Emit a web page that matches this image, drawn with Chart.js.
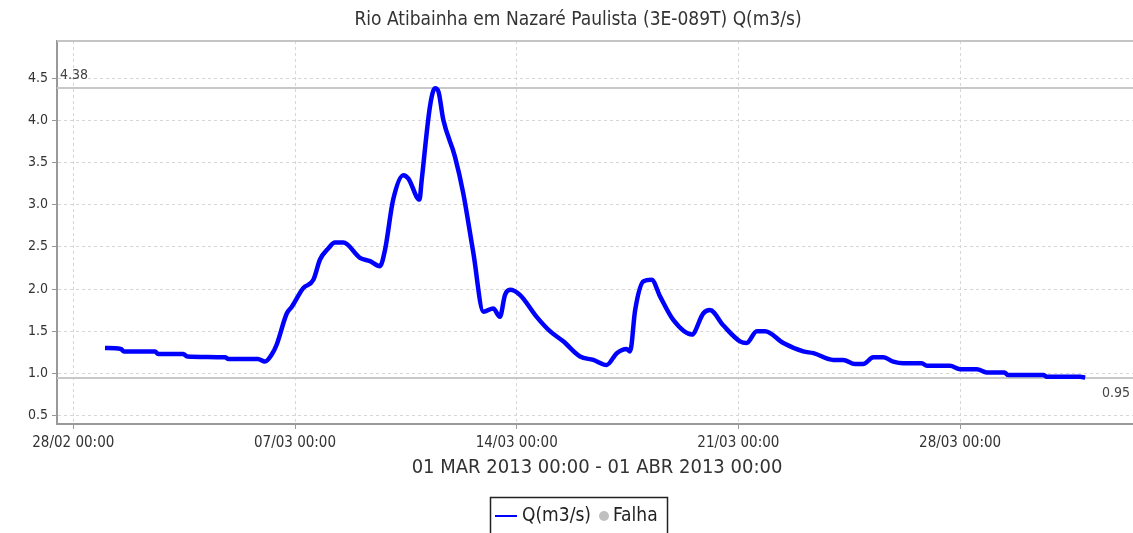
<!DOCTYPE html>
<html lang="pt">
<head>
    <meta charset="UTF-8">
    <title>Rio Atibainha em Nazaré Paulista</title>
    <style>
        body {
            margin: 0;
            background: #fff;
        }
        #wrap {
            width: 1133px;
            height: 533px;
        }
    </style>
</head>
<body>
    <div id="wrap"><canvas id="flowChart" width="1133" height="533"></canvas></div>

    <script src="https://cdn.jsdelivr.net/npm/chart.js"></script>
    <script>
        // days counted from 28/02/2013 00:00
        const days = [
            1.00, 1.50, 1.60, 2.58, 2.68, 3.47, 3.60, 4.79, 4.90, 5.83,
            6.05, 6.26, 6.42, 6.74, 6.90, 7.26, 7.58, 7.79, 8.05, 8.26,
            8.53, 9.05, 9.37, 9.68, 9.84, 10.10, 10.42, 10.58, 10.93, 11.00,
            11.26, 11.42, 11.53, 11.68, 12.05, 12.31, 12.63, 12.95, 13.26, 13.47,
            13.63, 13.79, 14.10, 14.63, 15.05, 15.47, 16.00, 16.42, 16.84, 17.16,
            17.47, 17.58, 17.74, 18.00, 18.26, 18.53, 18.95, 19.53, 19.89, 20.10,
            20.52, 21.05, 21.26, 21.58, 21.84, 22.42, 23.05, 23.37, 24.00, 24.31,
            24.68, 24.94, 25.26, 25.58, 25.89, 26.21, 26.79, 26.95, 27.68, 28.00,
            28.53, 28.84, 29.40, 29.52, 30.63, 30.74, 31.79, 31.95
        ];
        const flow = [
            1.30, 1.29, 1.26, 1.26, 1.23, 1.23, 1.20, 1.19, 1.17, 1.17,
            1.14, 1.22, 1.34, 1.71, 1.79, 2.01, 2.11, 2.35, 2.48, 2.55,
            2.55, 2.37, 2.33, 2.27, 2.46, 3.06, 3.35, 3.31, 3.06, 3.29,
            4.16, 4.38, 4.34, 4.01, 3.57, 3.14, 2.43, 1.73, 1.77, 1.67,
            1.93, 1.99, 1.93, 1.67, 1.50, 1.38, 1.20, 1.16, 1.10, 1.24,
            1.29, 1.26, 1.75, 2.09, 2.11, 1.91, 1.63, 1.46, 1.71, 1.75,
            1.57, 1.38, 1.36, 1.50, 1.50, 1.36, 1.26, 1.24, 1.16, 1.16,
            1.11, 1.11, 1.19, 1.19, 1.14, 1.12, 1.12, 1.09, 1.09, 1.05,
            1.05, 1.01, 1.01, 0.98, 0.98, 0.96, 0.96, 0.95
        ];
        const xTickDays = [0, 7, 14, 21, 28];
        const xTickLabels = ['28/02 00:00', '07/03 00:00', '14/03 00:00', '21/03 00:00', '28/03 00:00'];
        const yTicks = [0.5, 1.0, 1.5, 2.0, 2.5, 3.0, 3.5, 4.0, 4.5];
        const maxFlow = 4.38;
        const minFlow = 0.95;

        const titleText = 'Rio Atibainha em Nazaré Paulista (3E-089T) Q(m3/s)';
        const rangeText = '01 MAR 2013 00:00 - 01 ABR 2013 00:00';
        const seriesName = 'Q(m3/s)';
        const failName = 'Falha';

        const condensed = '"DejaVu Sans Condensed", "DejaVu Sans", sans-serif';

        // title, range label, max/min lines and legend box
        const decorations = {
            id: 'decorations',
            beforeDatasetsDraw(chart) {
                const ctx = chart.ctx;
                const area = chart.chartArea;
                const y = chart.scales.y;
                ctx.save();
                // outline top
                ctx.strokeStyle = '#c4c4c4';
                ctx.lineWidth = 2;
                ctx.beginPath();
                ctx.moveTo(area.left, area.top);
                ctx.lineTo(area.right, area.top);
                ctx.stroke();
                // max / min lines
                ctx.strokeStyle = '#c8c8c8';
                ctx.lineWidth = 2;
                [maxFlow, minFlow].forEach(v => {
                    const py = Math.round(y.getPixelForValue(v));
                    ctx.beginPath();
                    ctx.moveTo(area.left, py);
                    ctx.lineTo(area.right, py);
                    ctx.stroke();
                });
                ctx.fillStyle = '#444';
                ctx.font = '14px ' + condensed;
                ctx.textBaseline = 'bottom';
                ctx.textAlign = 'left';
                ctx.fillText(maxFlow.toFixed(2), area.left + 3, y.getPixelForValue(maxFlow) - 6);
                ctx.textBaseline = 'top';
                ctx.textAlign = 'right';
                ctx.fillText(minFlow.toFixed(2), area.right - 3, y.getPixelForValue(minFlow) + 9);
                ctx.restore();
            },
            afterDraw(chart) {
                const ctx = chart.ctx;
                ctx.save();
                ctx.fillStyle = '#333';
                ctx.textAlign = 'center';
                ctx.textBaseline = 'middle';
                ctx.font = '19px ' + condensed;
                ctx.fillText(titleText, 578, 20);
                ctx.font = '20px ' + condensed;
                ctx.fillText(rangeText, 597, 468);

                // legend
                ctx.strokeStyle = '#222';
                ctx.lineWidth = 1.5;
                ctx.strokeRect(490.5, 497.5, 177, 40);
                ctx.strokeStyle = '#0000ff';
                ctx.lineWidth = 2;
                ctx.beginPath();
                ctx.moveTo(495, 516);
                ctx.lineTo(517, 516);
                ctx.stroke();
                ctx.font = '19px ' + condensed;
                ctx.textAlign = 'left';
                ctx.fillStyle = '#222';
                ctx.fillText(seriesName, 522, 516);
                ctx.fillStyle = '#c0c0c0';
                ctx.beginPath();
                ctx.arc(604, 516, 5, 0, Math.PI * 2);
                ctx.fill();
                ctx.fillStyle = '#222';
                ctx.fillText(failName, 613, 516);
                ctx.restore();
            }
        };

        const ctx = document.getElementById('flowChart').getContext('2d');
        const flowChart = new Chart(ctx, {
            type: 'line',
            data: {
                datasets: [{
                    label: seriesName,
                    data: days.map((d, i) => ({ x: d, y: flow[i] })),
                    borderColor: '#0000ff',
                    borderWidth: 4.5,
                    pointRadius: 0,
                    fill: false,
                    cubicInterpolationMode: 'monotone'
                }]
            },
            options: {
                responsive: false,
                animation: false,
                layout: {
                    padding: { left: 0, right: 0, top: 41, bottom: 79 }
                },
                plugins: {
                    legend: { display: false },
                    title: { display: false },
                    tooltip: { enabled: false }
                },
                scales: {
                    x: {
                        type: 'linear',
                        min: -0.515,
                        max: 33.46,
                        afterBuildTicks: scale => {
                            scale.ticks = xTickDays.map(v => ({ value: v }));
                        },
                        afterFit: scale => { scale.height = 30; },
                        ticks: {
                            autoSkip: false,
                            maxRotation: 0,
                            padding: 5,
                            color: '#333',
                            font: { family: condensed, size: 15 },
                            callback: value => xTickLabels[xTickDays.indexOf(value)]
                        },
                        grid: {
                            color: '#d6d6d6',
                            lineWidth: 1,
                            tickLength: 5,
                            tickColor: '#999',
                            tickWidth: 1,
                            tickBorderDash: []
                        },
                        border: { display: true, color: '#999', width: 2, dash: [3, 3] }
                    },
                    y: {
                        min: 0.40,
                        max: 4.94,
                        afterBuildTicks: scale => {
                            scale.ticks = yTicks.map(v => ({ value: v }));
                        },
                        afterFit: scale => { scale.width = 57; },
                        ticks: {
                            padding: 4,
                            color: '#333',
                            font: { family: condensed, size: 14 },
                            callback: value => value.toFixed(1)
                        },
                        grid: {
                            color: '#d6d6d6',
                            lineWidth: 1,
                            tickLength: 5,
                            tickColor: '#999',
                            tickWidth: 1,
                            tickBorderDash: []
                        },
                        border: { display: true, color: '#999', width: 2, dash: [3, 3] }
                    }
                }
            },
            plugins: [decorations]
        });
    </script>
</body>
</html>
